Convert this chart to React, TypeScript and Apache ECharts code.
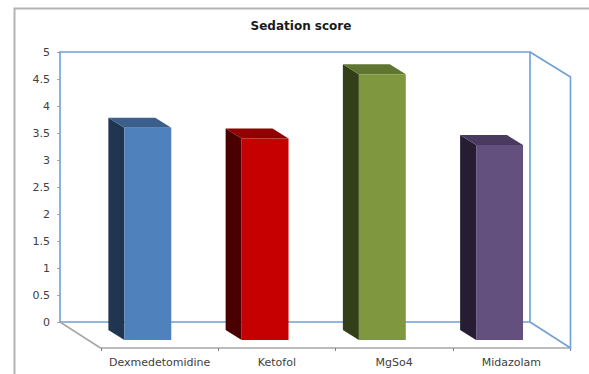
import React, { useEffect, useRef } from "react";
import * as echarts from "echarts";

const categories = ["Dexmedetomidine", "Ketofol", "MgSo4", "Midazolam"];
const sedationScores = [3.93, 3.73, 4.92, 3.61];

// Front, top and side shades of each bar.
const frontColors = ["#4f81bd", "#c60000", "#7f983f", "#64507f"];
const topColors = ["#3a5f8c", "#900000", "#5f7530", "#4a3a60"];
const sideColors = ["#1f3550", "#4a0000", "#333f18", "#261d33"];

const WALL_BLUE = "#6f9fd8";
const AXIS_GRAY = "#a6a6a6";
const TEXT_COLOR = "#404040";
const FONT = "DejaVu Sans";

// Floor depth in pixels, from the back wall to the front edge.
const DEPTH_X = 40.5;
const DEPTH_Y = 26;
// Bars stand part-way into the floor.
const BAR_FRONT = { x: -11.8, y: -8 };
const BAR_BACK = { x: -27.8, y: -18 };

function renderFrame(params: any) {
  const { x, y, width, height } = params.coordSys;
  const right = x + width;
  const bottom = y + height;
  return {
    type: "group",
    children: [
      {
        type: "polygon",
        shape: { points: [[x, bottom], [x, y], [right, y], [right, bottom]] },
        style: { stroke: WALL_BLUE, lineWidth: 1.6, fill: "#fff" },
      },
      {
        type: "polyline",
        shape: {
          points: [
            [right, y],
            [right + DEPTH_X, y + DEPTH_Y - 1],
            [right + DEPTH_X, bottom + DEPTH_Y],
            [right, bottom],
          ],
        },
        style: { stroke: WALL_BLUE, lineWidth: 1.6, fill: "none" },
      },
      {
        type: "line",
        shape: { x1: x, y1: bottom, x2: x + DEPTH_X, y2: bottom + DEPTH_Y },
        style: { stroke: AXIS_GRAY, lineWidth: 1.5 },
      },
    ],
  };
}

function renderBar(params: any, api: any) {
  const i = api.value(0);
  const [cx, top] = api.coord([i, api.value(1)]);
  const [, base] = api.coord([i, 0]);
  const half = (api.size([1, 0])[0] * 0.4) / 2;
  const xf0 = cx - half + BAR_FRONT.x;
  const xf1 = cx + half + BAR_FRONT.x;
  const xb0 = cx - half + BAR_BACK.x;
  const xb1 = cx + half + BAR_BACK.x;
  const face = (points: number[][], fill: string) => ({
    type: "polygon",
    shape: { points },
    style: { fill },
  });
  return {
    type: "group",
    children: [
      face(
        [
          [xb0, top + BAR_BACK.y],
          [xf0, top + BAR_FRONT.y],
          [xf0, base + BAR_FRONT.y],
          [xb0, base + BAR_BACK.y],
        ],
        sideColors[i],
      ),
      face(
        [
          [xb0, top + BAR_BACK.y],
          [xb1, top + BAR_BACK.y],
          [xf1, top + BAR_FRONT.y],
          [xf0, top + BAR_FRONT.y],
        ],
        topColors[i],
      ),
      face(
        [
          [xf0, top + BAR_FRONT.y],
          [xf1, top + BAR_FRONT.y],
          [xf1, base + BAR_FRONT.y],
          [xf0, base + BAR_FRONT.y],
        ],
        frontColors[i],
      ),
    ],
  };
}

export default function App() {
  const ref = useRef<HTMLDivElement>(null);

  useEffect(() => {
    const chart = echarts.init(ref.current!, undefined, { renderer: "svg" });
    chart.setOption({
      animation: false,
      backgroundColor: "#fff",
      title: {
        text: "Sedation score",
        left: 301,
        top: 20,
        textAlign: "center",
        textVerticalAlign: "top",
        padding: 0,
        textStyle: { fontFamily: FONT, fontSize: 12, fontWeight: "bold", color: "#1a1a1a" },
      },
      graphic: [
        {
          type: "polyline",
          shape: { points: [[14.5, 374], [14.5, 8.5], [589, 8.5]] },
          style: { stroke: "#b3b3b3", lineWidth: 2, fill: "none" },
        },
      ],
      grid: [
        { left: 60, right: 59, top: 52, bottom: 52 },
        { left: 101, right: 19, top: 78, bottom: 26 },
      ],
      xAxis: [
        { type: "category", gridIndex: 0, data: categories, show: false },
        {
          type: "category",
          gridIndex: 1,
          data: categories,
          axisLine: { show: true, lineStyle: { color: AXIS_GRAY, width: 1.5 } },
          axisTick: { show: true, length: 3, lineStyle: { color: "#808080", width: 1 } },
          axisLabel: { fontFamily: FONT, fontSize: 11, color: TEXT_COLOR, margin: 9, interval: 0 },
        },
      ],
      yAxis: [
        {
          type: "value",
          gridIndex: 0,
          min: 0,
          max: 5,
          interval: 0.5,
          splitLine: { show: false },
          axisLine: { show: false },
          axisTick: { show: true, length: 3, lineStyle: { color: AXIS_GRAY } },
          axisLabel: { fontFamily: FONT, fontSize: 11, color: TEXT_COLOR, margin: 10 },
        },
        { type: "value", gridIndex: 1, min: 0, max: 5, interval: 0.5, show: false },
      ],
      series: [
        {
          type: "custom",
          xAxisIndex: 0,
          yAxisIndex: 0,
          data: [[0, 0]],
          silent: true,
          clip: false,
          z: 1,
          renderItem: renderFrame,
        },
        {
          type: "custom",
          name: "Sedation score",
          xAxisIndex: 1,
          yAxisIndex: 1,
          data: sedationScores.map((v, i) => [i, v]),
          encode: { x: 0, y: 1 },
          clip: false,
          z: 3,
          renderItem: renderBar,
        },
      ],
    });
    return () => chart.dispose();
  }, []);

  return <div ref={ref} style={{ position: "fixed", left: 0, top: 0, width: 589, height: 374 }} />;
}
